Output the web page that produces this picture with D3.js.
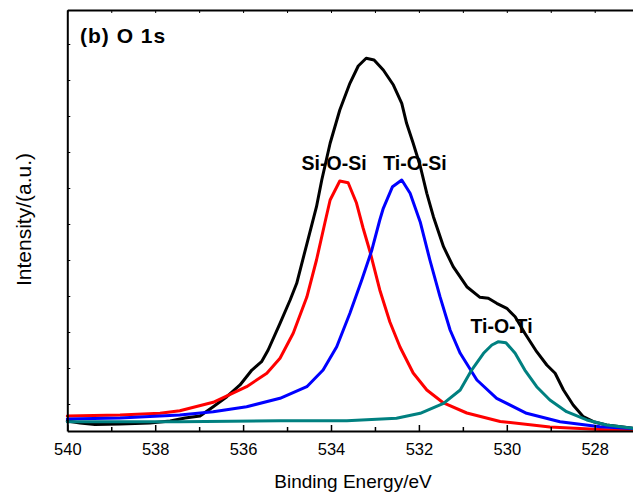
<!DOCTYPE html>
<html>
<head>
<meta charset="utf-8">
<script src="https://cdn.jsdelivr.net/npm/d3@7"></script>
<style>
  html, body { margin: 0; padding: 0; background: #fff; }
  svg { display: block; font-family: Arial, "Liberation Sans", sans-serif; }
</style>
</head>
<body>
<svg id="chart" width="633" height="497"></svg>
<script>
// O 1s XPS spectrum: measured envelope and three fitted components.
// Each point is [binding energy (eV), intensity (a.u.)].
const envelope = [
  [540.00, 0.528], [539.71, 0.472], [539.37, 0.431], [538.80, 0.444], [538.12, 0.472],
  [537.66, 0.528], [537.32, 0.611], [536.98, 0.667], [536.68, 0.925], [536.37, 1.203],
  [536.07, 1.528], [535.80, 1.944], [535.58, 2.175], [535.43, 2.500], [535.16, 3.242],
  [534.93, 3.889], [534.78, 4.353], [534.55, 5.444], [534.33, 6.481], [534.21, 7.222],
  [534.02, 8.242], [533.80, 9.167], [533.57, 9.908], [533.38, 10.389], [533.20, 10.603],
  [533.02, 10.556], [532.81, 10.278], [532.58, 9.861], [532.39, 9.353], [532.28, 8.797],
  [532.13, 8.242], [531.97, 7.611], [531.82, 6.853], [531.67, 6.203], [531.44, 5.369],
  [531.22, 4.814], [530.91, 4.258], [530.61, 3.964], [530.42, 3.936], [530.23, 3.797],
  [530.00, 3.658], [529.81, 3.425], [529.59, 2.964], [529.32, 2.453], [529.09, 2.083],
  [528.90, 1.853], [528.71, 1.389], [528.49, 0.972], [528.26, 0.647], [528.03, 0.508],
  [527.73, 0.417], [527.13, 0.325]
];

const siOSi = [
  [540.00, 0.667], [538.80, 0.694], [537.89, 0.742], [537.44, 0.814], [536.68, 1.047],
  [535.92, 1.481], [535.46, 1.853], [535.16, 2.269], [534.86, 2.964], [534.55, 3.972],
  [534.33, 5.000], [534.14, 6.028], [534.02, 6.667], [533.80, 7.194], [533.61, 7.147],
  [533.42, 6.583], [533.27, 5.889], [533.11, 5.222], [532.89, 4.167], [532.66, 3.278],
  [532.43, 2.583], [532.13, 1.861], [531.82, 1.389], [531.44, 1.028], [530.91, 0.750],
  [530.15, 0.514], [529.02, 0.361], [527.88, 0.292], [527.13, 0.264]
];

const tiOSi = [
  [540.00, 0.583], [538.80, 0.611], [537.44, 0.694], [536.68, 0.786], [535.92, 0.925],
  [535.16, 1.158], [534.55, 1.481], [534.18, 1.944], [533.87, 2.592], [533.57, 3.519],
  [533.30, 4.444], [533.07, 5.278], [532.89, 6.111], [532.81, 6.436], [532.60, 7.036],
  [532.39, 7.222], [532.20, 6.853], [531.97, 6.056], [531.75, 5.000], [531.52, 3.981],
  [531.29, 3.056], [531.06, 2.408], [530.68, 1.667], [530.23, 1.158], [529.55, 0.742],
  [528.79, 0.508], [527.88, 0.369], [527.13, 0.319]
];

const tiOTi = [
  [540.00, 0.508], [537.44, 0.508], [535.16, 0.536], [533.64, 0.536], [532.51, 0.603],
  [531.97, 0.742], [531.44, 1.019], [531.06, 1.389], [530.80, 1.944], [530.53, 2.408],
  [530.34, 2.639], [530.19, 2.731], [530.02, 2.703], [529.81, 2.408], [529.59, 1.944],
  [529.32, 1.481], [529.02, 1.111], [528.64, 0.786], [528.18, 0.556], [527.73, 0.417],
  [527.13, 0.325]
];

const energyTicks = [540, 538, 536, 534, 532, 530, 528];
const energyMinorTicks = [539, 537, 535, 533, 531, 529, 527];
const intensityTicks = [1, 2, 3, 4, 5, 6, 7, 8, 9, 10, 11];

const seriesList = [
  { name: "envelope", data: envelope, color: "#000000" },
  { name: "Si-O-Si", data: siOSi, color: "#ff0000" },
  { name: "Ti-O-Si", data: tiOSi, color: "#0000ff" },
  { name: "Ti-O-Ti", data: tiOTi, color: "#008080" }
];

const peakLabels = [
  { text: "Si-O-Si", e: 533.93, v: 7.5 },
  { text: "Ti-O-Si", e: 532.09, v: 7.5 },
  { text: "Ti-O-Ti", e: 530.12, v: 2.97 }
];

const svg = d3.select("#chart");
const plotLeft = 67.3, plotBottom = 431, plotTop = 10;
const pxPerEv = 43.95;
const plotRight = plotLeft + 13 * pxPerEv;

const x = d3.scaleLinear().domain([540, 527]).range([plotLeft, plotRight]);
const y = d3.scaleLinear().domain([0.25, 0.25 + (plotBottom - plotTop) / 36]).range([plotBottom, plotTop]);

// curves
const line = d3.line().x(d => x(d[0])).y(d => y(d[1]));
svg.append("g").selectAll("path")
  .data(seriesList)
  .join("path")
  .attr("d", d => line(d.data))
  .attr("fill", "none")
  .attr("stroke", d => d.color)
  .attr("stroke-width", 3)
  .attr("stroke-linejoin", "round")
  .attr("stroke-linecap", "round");

// bottom axis: major ticks with labels, minor ticks without
const xAxis = svg.append("g").attr("transform", `translate(0,${plotBottom})`)
  .call(d3.axisBottom(x).tickValues(energyTicks).tickSizeInner(-6).tickSizeOuter(0).tickPadding(12.5)
    .tickFormat(d3.format("d")));
xAxis.select(".domain").attr("stroke-width", 2);
xAxis.selectAll(".tick line").attr("stroke-width", 1.5);
xAxis.selectAll(".tick text").attr("font-size", 16.5).attr("font-family", "Arial, 'Liberation Sans', sans-serif").attr("fill", "#000");

const xMinor = svg.append("g").attr("transform", `translate(0,${plotBottom})`)
  .call(d3.axisBottom(x).tickValues(energyMinorTicks).tickSizeInner(-4).tickSizeOuter(0).tickFormat(""));
xMinor.select(".domain").remove();
xMinor.selectAll(".tick line").attr("stroke-width", 1.5);

// top frame with small inward ticks
const xTop = svg.append("g").attr("transform", `translate(0,${plotTop})`)
  .call(d3.axisTop(x).tickValues(energyTicks.concat(energyMinorTicks)).tickSizeInner(-3).tickSizeOuter(0).tickFormat(""));
xTop.select(".domain").attr("stroke-width", 2);
xTop.selectAll(".tick line").attr("stroke-width", 1);

// left axis: unlabeled intensity ticks
const yAxis = svg.append("g").attr("transform", `translate(${plotLeft},0)`)
  .call(d3.axisLeft(y).tickValues(intensityTicks).tickSizeInner(-3).tickSizeOuter(0).tickFormat(""));
yAxis.select(".domain").attr("stroke-width", 2);
yAxis.selectAll(".tick line").attr("stroke-width", 1);

// axis titles
svg.append("text")
  .attr("x", (plotLeft + plotRight) / 2)
  .attr("y", 488)
  .attr("text-anchor", "middle")
  .attr("font-size", 19)
  .text("Binding Energy/eV");

svg.append("text")
  .attr("transform", `translate(31,${(plotTop + plotBottom) / 2 - 1}) rotate(-90)`)
  .attr("text-anchor", "middle")
  .attr("font-size", 21)
  .text("Intensity/(a.u.)");

// panel title
svg.append("text")
  .attr("x", 80)
  .attr("y", 43)
  .attr("font-size", 21)
  .attr("letter-spacing", 1)
  .attr("font-weight", "bold")
  .text("(b) O 1s");

// component labels
svg.append("g").selectAll("text")
  .data(peakLabels)
  .join("text")
  .attr("x", d => x(d.e))
  .attr("y", d => y(d.v))
  .attr("text-anchor", "middle")
  .attr("font-size", 19.5)
  .attr("font-weight", "bold")
  .text(d => d.text);
</script>
</body>
</html>
